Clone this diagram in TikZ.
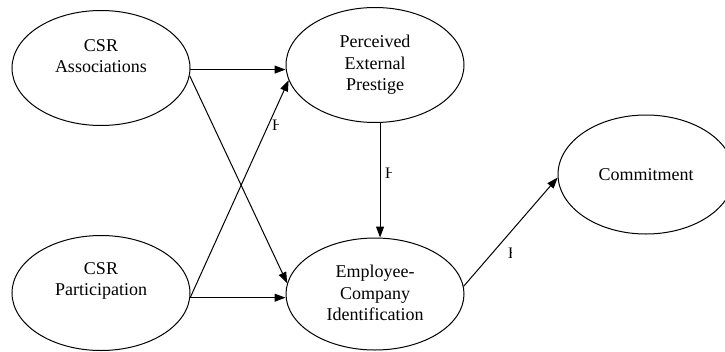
\documentclass[tikz,border=0pt]{standalone}
\usepackage{fontspec}
\setmainfont{Liberation Serif}
\usetikzlibrary{shapes.geometric,arrows.meta}
\tikzset{
  construct/.style={draw, ellipse, line width=1pt, inner sep=0pt, minimum width=178pt, minimum height=115pt},
  txt/.style={align=center, font=\fontsize{18}{21.5}\selectfont},
  path/.style={draw, line width=1pt, -{Triangle[length=11pt,width=8pt]}},
  hyp/.style={anchor=west, inner sep=0pt, font=\fontsize{16}{18}\selectfont}
}
\begin{document}
\begin{tikzpicture}[x=1pt,y=-1pt]
\clip (0,0) rectangle (725,351);
\fill[white] (0,0) rectangle (725,351);
\node[construct, label={[txt,yshift=12pt]center:{CSR\\Associations}}] (A) at (101,68) {};
\node[construct, label={[txt,yshift=12pt]center:{CSR\\Participation}}] (P) at (101,293) {};
\node[construct, label={[txt]center:{Perceived\\External\\Prestige}}] (PEP) at (375,65) {};
\node[construct, minimum height=112pt, label={[txt,yshift=1pt]center:{Employee-\\Company\\Identification}}] (EC) at (375,294) {};
\node[construct, minimum width=176pt, minimum height=119pt, label={[txt]center:{Commitment}}] (C) at (646,174.5) {};

\path[path] (A.-1) -- (A.-1 -| PEP.west);
\path[path] (A.-5) -- (EC.173);
\path[path] (P.-3) -- (PEP.190);
\path[path] (P.-3) -- (P.-3 -| EC.west);
\path[path] (PEP.-85) -- (PEP.-85 |- EC.north);
\path[path] (EC.5) -- (C.182);

\begin{scope}
\clip (272,110) rectangle (278,140);
\node[hyp] (h1) at (272,125) {H};
\end{scope}
\begin{scope}
\clip (385,160) rectangle (391,190);
\node[hyp] (h2) at (385,173) {H};
\end{scope}
\begin{scope}
\clip (508,240) rectangle (511.8,265);
\node[hyp] (h3) at (508,253) {H};
\end{scope}
\end{tikzpicture}
\end{document}
